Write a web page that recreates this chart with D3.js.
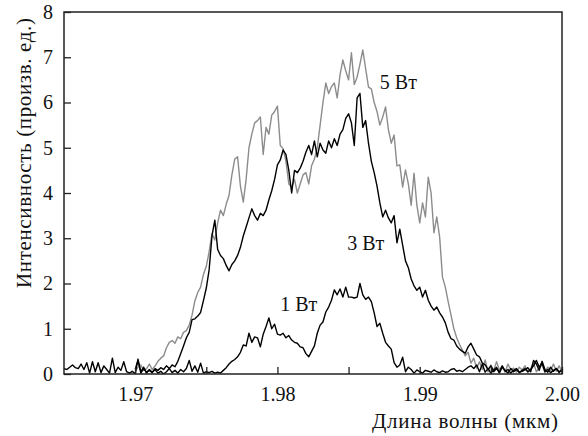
<!DOCTYPE html>
<html>
<head>
<meta charset="utf-8">
<script src="https://cdn.jsdelivr.net/npm/d3@7/dist/d3.min.js"></script>
</head>
<body style="margin:0; background:#fff">
<svg id="chart"></svg>
<script>
// spectra are sampled on a regular wavelength grid (um)
const lambdaStep = 0.0002;
const start1W = 1.965;
const start3W = 1.970;
const start5W = 1.970;

// intensity (arb. units)
const power1W = [
  0.12, 0.10, 0.15, 0.20, 0.14, 0.12, 0.22, 0.10, 0.25, 0.02,
  0.27, 0.05, 0.25, 0.03, 0.18, 0.10, 0.02, 0.35, 0.03, 0.15,
  0.08, 0.27, 0.05, 0.02, 0.06, 0.00, 0.33, 0.02, 0.12, 0.04,
  0.08, 0.03, 0.10, 0.02, 0.06, 0.00, 0.05, 0.12, 0.03, 0.08,
  0.02, 0.10, 0.05, 0.12, 0.30, 0.06, 0.18, 0.04, 0.24, 0.02,
  0.05, 0.03, 0.06, 0.02, 0.04, 0.02, 0.08, 0.14, 0.22, 0.28,
  0.32, 0.38, 0.48, 0.64, 0.62, 0.90, 0.70, 0.82, 0.80, 0.60,
  0.88, 1.05, 1.24, 1.00, 1.10, 0.88, 0.86, 0.90, 0.80, 0.85,
  0.75, 0.70, 0.68, 0.60, 0.58, 0.45, 0.38, 0.50, 0.62, 0.90,
  1.08, 1.15, 1.37, 1.48, 1.63, 1.86, 1.75, 1.88, 1.70, 1.92,
  1.70, 1.70, 1.68, 1.70, 2.00, 1.75, 1.65, 1.70, 1.60, 1.35,
  1.05, 1.12, 0.90, 0.70, 0.62, 0.55, 0.25, 0.15, 0.20, 0.37,
  0.05, 0.15, 0.10, 0.02, 0.09, 0.05, 0.02, 0.08, 0.06, 0.04,
  0.09, 0.05, 0.03, 0.07, 0.04, 0.05, 0.10, 0.12, 0.06, 0.08,
  0.05, 0.10, 0.15, 0.18, 0.12, 0.20, 0.05, 0.22, 0.04, 0.12,
  0.02, 0.09, 0.15, 0.03, 0.18, 0.06, 0.10, 0.02, 0.08, 0.12,
  0.04, 0.06, 0.09, 0.14, 0.05, 0.30, 0.22, 0.08, 0.28, 0.10,
  0.04, 0.15, 0.06, 0.12, 0.03, 0.10
];

const power3W = [
  0.10, 0.30, 0.05, 0.15, 0.02, 0.10, 0.04, 0.12, 0.08, 0.14,
  0.10, 0.18, 0.12, 0.20, 0.16, 0.28, 0.45, 0.62, 0.80, 0.92,
  1.20, 1.22, 1.28, 1.36, 1.62, 1.90, 2.30, 3.05, 3.40, 2.75,
  2.62, 2.55, 2.40, 2.28, 2.42, 2.50, 2.62, 2.80, 3.05, 3.25,
  3.45, 3.65, 3.50, 3.40, 3.55, 3.50, 3.62, 3.85, 4.05, 4.30,
  4.62, 4.73, 4.95, 4.85, 4.50, 4.00, 4.50, 4.45, 4.55, 4.70,
  4.90, 5.05, 4.85, 5.15, 4.80, 5.10, 4.95, 4.88, 5.15, 5.00,
  5.20, 5.05, 5.30, 5.40, 5.65, 5.75, 5.55, 5.05, 6.10, 6.20,
  5.45, 5.60, 5.10, 4.70, 4.45, 4.15, 3.78, 3.47, 3.62, 3.45,
  3.34, 3.50, 2.90, 3.20, 2.85, 2.50, 2.35, 2.10, 1.95, 1.85,
  1.92, 1.70, 1.85, 1.63, 1.50, 1.41, 1.48, 1.35, 1.26, 1.13,
  0.92, 0.78, 0.75, 0.62, 0.55, 0.50, 0.46, 0.60, 0.68, 0.55,
  0.42, 0.38, 0.24, 0.20, 0.10, 0.18, 0.05, 0.12, 0.03, 0.15,
  0.08, 0.02, 0.12, 0.05, 0.10, 0.03, 0.08, 0.12, 0.05, 0.10,
  0.18, 0.30, 0.15, 0.25, 0.05, 0.10, 0.03, 0.08, 0.12, 0.05, 0.08
];

const power5W = [
  0.05, 0.15, 0.20, 0.08, 0.12, 0.22, 0.10, 0.18, 0.28, 0.35,
  0.40, 0.58, 0.70, 0.74, 0.68, 0.82, 0.78, 0.92, 0.96, 1.08,
  1.30, 1.62, 1.80, 1.92, 2.20, 2.38, 2.70, 3.10, 2.96, 3.34,
  3.62, 3.50, 3.75, 3.95, 4.40, 4.75, 4.80, 4.15, 3.80, 4.30,
  5.00, 5.30, 5.55, 5.60, 5.68, 4.85, 5.45, 5.30, 5.72, 5.80,
  5.92, 5.05, 4.98, 4.70, 4.20, 4.13, 4.30, 4.00, 4.20, 4.40,
  4.45, 4.20, 4.60, 4.75, 5.00, 5.50, 6.00, 6.43, 6.20, 6.35,
  6.43, 6.10, 6.61, 6.94, 6.70, 6.50, 7.10, 6.40, 6.56, 6.85,
  7.16, 6.75, 6.34, 6.30, 6.00, 5.80, 5.50, 5.68, 5.90, 5.40,
  5.10, 5.28, 4.60, 4.62, 4.13, 4.51, 4.20, 3.73, 4.44, 3.73,
  3.34, 3.78, 3.47, 4.35, 4.00, 3.12, 3.47, 3.03, 2.14, 1.92,
  1.60, 1.30, 1.00, 0.80, 0.65, 0.53, 0.40, 0.48, 0.24, 0.35,
  0.13, 0.27, 0.10, 0.31, 0.05, 0.20, 0.08, 0.27, 0.09, 0.18,
  0.04, 0.22, 0.09, 0.13, 0.04, 0.15, 0.09, 0.18, 0.03, 0.12,
  0.24, 0.05, 0.14, 0.20, 0.04, 0.15, 0.08, 0.22, 0.06, 0.18, 0.05
];

const xTicks = [1.97, 1.975, 1.98, 1.985, 1.99, 1.995, 2.00];
const yTicks = [0, 1, 2, 3, 4, 5, 6, 7, 8];

const seriesLabels = [
  { text: "5 Вт", lambda: 1.9872, value: 6.3 },
  { text: "3 Вт", lambda: 1.9849, value: 2.75 },
  { text: "1 Вт", lambda: 1.9802, value: 1.4 }
];

const xTitle = "Длина волны (мкм)";
const yTitle = "Интенсивность (произв. ед.)";

const serif = 'Liberation Serif';

// turn an intensity list into points on the wavelength grid
function toPoints(values, start) {
  return values.map((v, i) => ({ lambda: start + i * lambdaStep, value: v }));
}

function makeChart() {
  let w = 588;
  let h = 436;
  let margin = { left: 64, top: 12, right: 26, bottom: 62 };
  let innerW = w - margin.left - margin.right;
  let innerH = h - margin.top - margin.bottom;

  let svg = d3.select('#chart')
    .attr('width', w)
    .attr('height', h);

  let g = svg.append('g')
    .attr('transform', `translate(${margin.left},${margin.top})`);

  let xScale = d3.scaleLinear()
    .domain([1.965, 2.0])
    .range([0, innerW]);

  let yScale = d3.scaleLinear()
    .domain([0, 8])
    .range([innerH, 0]);

  g.append('clipPath')
    .attr('id', 'plot-clip')
    .append('rect')
    .attr('width', innerW)
    .attr('height', innerH);

  let line = d3.line()
    .x((d) => xScale(d.lambda))
    .y((d) => yScale(d.value));

  // grey first, black lines on top
  let series = [
    { points: toPoints(power5W, start5W), color: '#8c8c8c' },
    { points: toPoints(power3W, start3W), color: '#000' },
    { points: toPoints(power1W, start1W), color: '#000' }
  ];

  g.append('g')
    .attr('clip-path', 'url(#plot-clip)')
    .selectAll('path')
    .data(series)
    .enter()
    .append('path')
    .attr('d', (d) => line(d.points))
    .attr('fill', 'none')
    .attr('stroke', (d) => d.color)
    .attr('stroke-width', 1.4)
    .attr('stroke-linejoin', 'round');

  // AXES (ticks point inward)
  let fmt = d3.format('.2f');
  let xAxis = d3.axisBottom(xScale)
    .tickValues(xTicks)
    .tickSizeInner(-7)
    .tickSizeOuter(0)
    .tickPadding(13)
    .tickFormat((d) => Math.abs(d * 100 - Math.round(d * 100)) < 1e-6 ? fmt(d) : '');

  let yAxis = d3.axisLeft(yScale)
    .tickValues(yTicks)
    .tickSizeInner(-7)
    .tickSizeOuter(0)
    .tickPadding(11);

  let gx = g.append('g')
    .attr('transform', `translate(0,${innerH})`)
    .call(xAxis);

  let gy = g.append('g')
    .call(yAxis);

  [gx, gy].forEach((a) => {
    a.attr('font-family', serif).attr('font-size', 20);
    a.select('.domain').remove();
    a.selectAll('line').attr('stroke', '#222').attr('stroke-width', 1.3);
    a.selectAll('text')
      .attr('fill', '#111')
      .attr('font-family', serif)
      .attr('font-size', 20);
  });

  // frame
  g.append('rect')
    .attr('width', innerW)
    .attr('height', innerH)
    .attr('fill', 'none')
    .attr('stroke', '#222')
    .attr('stroke-width', 1.5);

  // series labels
  g.selectAll('.series-label')
    .data(seriesLabels)
    .enter()
    .append('text')
    .attr('class', 'series-label')
    .attr('x', (d) => xScale(d.lambda))
    .attr('y', (d) => yScale(d.value))
    .attr('font-family', serif)
    .attr('font-size', 20)
    .attr('fill', '#111')
    .text((d) => d.text);

  // axis titles
  svg.append('text')
    .attr('x', margin.left + innerW - 4)
    .attr('y', 428)
    .attr('text-anchor', 'end')
    .attr('font-family', serif)
    .attr('font-size', 21)
    .attr('textLength', 186)
    .attr('lengthAdjust', 'spacing')
    .attr('fill', '#111')
    .text(xTitle);

  svg.append('text')
    .attr('transform', `translate(31,${margin.top + 141}) rotate(-90)`)
    .attr('text-anchor', 'middle')
    .attr('font-family', serif)
    .attr('font-size', 21)
    .attr('textLength', 270)
    .attr('lengthAdjust', 'spacing')
    .attr('fill', '#111')
    .text(yTitle);
}

makeChart();
</script>
</body>
</html>
